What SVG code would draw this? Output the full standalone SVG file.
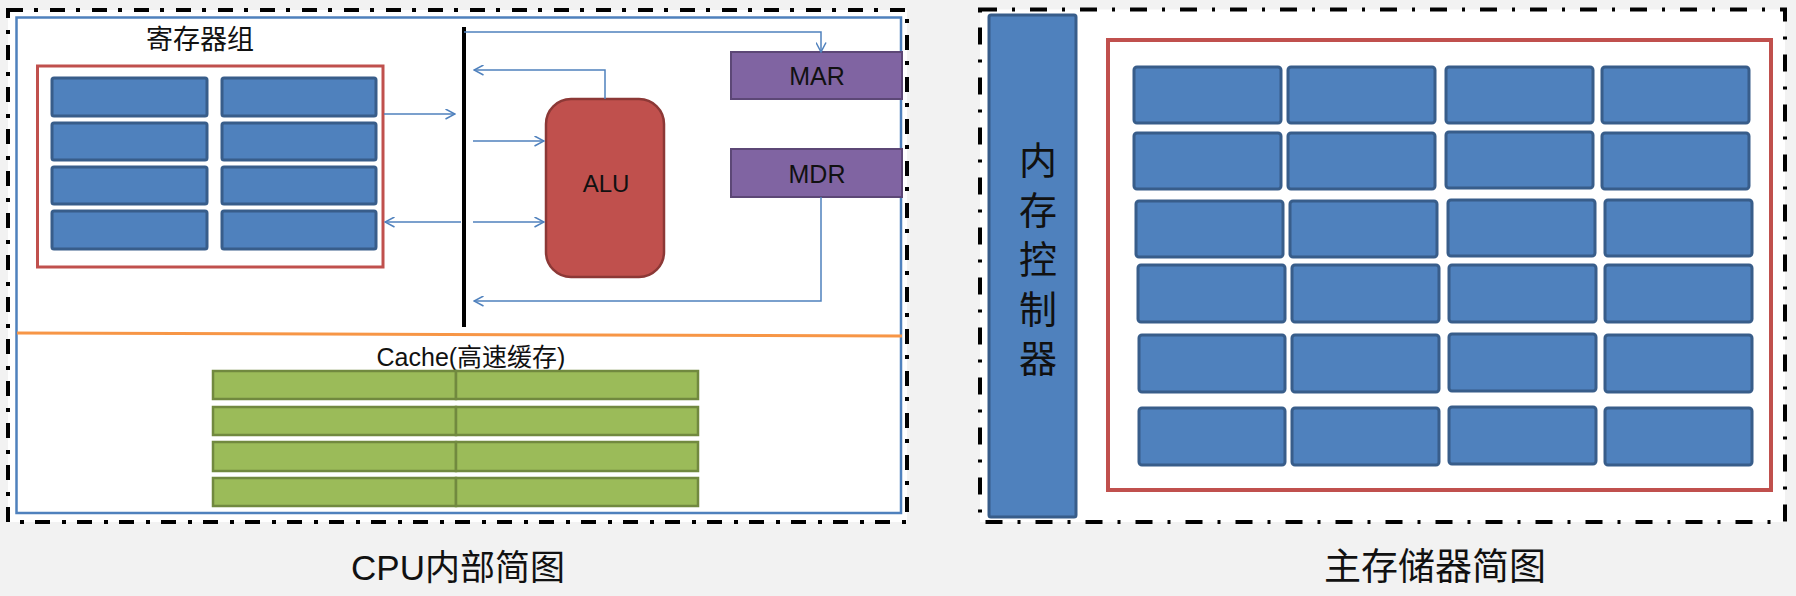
<svg xmlns="http://www.w3.org/2000/svg" width="1796" height="596" viewBox="0 0 1796 596">
<style>
.bg{fill:#f2f2f2}
.frameL{fill:#fff;stroke:#000;stroke-width:4;stroke-dasharray:15 11 4 12}
.frameR{fill:#fff;stroke:#000;stroke-width:4;stroke-dasharray:17 15 3 15}
.cpu{fill:none;stroke:#4f81bd;stroke-width:2.5}
.grp{fill:none;stroke:#c0504d;stroke-width:3}
.cell{fill:#4f81bd;stroke:#385d8a;stroke-width:3}
.green{fill:#9bbb59;stroke:#71893f;stroke-width:2.5}
.reg{fill:#8064a2;stroke:#5c4776;stroke-width:2}
.alu{fill:#c0504d;stroke:#8c3836;stroke-width:2.5}
.bl{fill:none;stroke:#4f81bd;stroke-width:1.5;marker-end:url(#ob)}
.ra{fill:none;stroke:#c0504d;stroke-width:4;marker-end:url(#rh);filter:url(#sh)}
.t{font-family:"Liberation Sans","Noto Sans CJK SC",sans-serif;fill:#111;text-anchor:middle}
.c{font-family:"Noto Sans CJK SC",sans-serif;fill:#111;text-anchor:middle}
.v{font-family:"Noto Sans CJK SC",sans-serif;fill:#111;writing-mode:vertical-rl;text-orientation:upright;letter-spacing:11.5px}
</style>
<defs>
<marker id="ob" viewBox="0 0 11 11" refX="10" refY="5.5" markerWidth="11" markerHeight="11" markerUnits="userSpaceOnUse" orient="auto">
<path d="M0.5,0.5 L10,5.5 L0.5,10.5" fill="none" stroke="#4f81bd" stroke-width="1.5"/>
</marker>
<marker id="rh" viewBox="0 0 18 18" refX="17" refY="9" markerWidth="18" markerHeight="18" markerUnits="userSpaceOnUse" orient="auto">
<path d="M0,1 L18,9 L0,17 Z" fill="#c0504d"/>
</marker>
<filter id="sh" x="-20%" y="-50%" width="140%" height="200%">
<feDropShadow dx="1" dy="2" stdDeviation="1.5" flood-color="#000" flood-opacity="0.25"/>
</filter>
</defs>
<rect class="bg" x="0" y="0" width="1796" height="596"/>

<g id="cpu-frame">
<rect class="frameL" x="8" y="10" width="899" height="512"/>
<rect class="cpu" x="16.5" y="17.5" width="884.5" height="495.5"/>
<line x1="17" y1="333" x2="902" y2="336" stroke="#f79646" stroke-width="3"/>
<text class="c" x="458" y="580" font-size="35"><tspan font-family="Liberation Sans">CPU</tspan>内部简图</text>
</g>

<g id="mem-frame">
<rect class="frameR" x="980" y="9.5" width="805" height="512.5"/>
<text class="c" x="1435" y="580" font-size="37">主存储器简图</text>
</g>

<g id="register-group">
<text class="c" x="200" y="49" font-size="27">寄存器组</text>
<rect class="grp" x="37.5" y="66" width="345.5" height="201"/>
<rect class="cell" x="52" y="78" width="155" height="38" rx="2"/>
<rect class="cell" x="222" y="78" width="154" height="38" rx="2"/>
<rect class="cell" x="52" y="123" width="155" height="37" rx="2"/>
<rect class="cell" x="222" y="123" width="154" height="37" rx="2"/>
<rect class="cell" x="52" y="167" width="155" height="37" rx="2"/>
<rect class="cell" x="222" y="167" width="154" height="37" rx="2"/>
<rect class="cell" x="52" y="211" width="155" height="38" rx="2"/>
<rect class="cell" x="222" y="211" width="154" height="38" rx="2"/>
</g>

<g id="bus">
<line x1="464" y1="27" x2="464" y2="327" stroke="#000" stroke-width="4"/>
</g>

<g id="alu">
<rect class="alu" x="546" y="99" width="118" height="178" rx="25"/>
<text class="t" x="606" y="192" font-size="24">ALU</text>
</g>

<g id="mar">
<rect class="reg" x="731" y="52" width="171" height="47"/>
<text class="t" x="817" y="85" font-size="25">MAR</text>
</g>

<g id="mdr">
<rect class="reg" x="731" y="149" width="171" height="48"/>
<text class="t" x="817" y="183" font-size="25">MDR</text>
</g>

<g id="cache">
<text class="t" x="471" y="366" font-size="25">Cache(高速缓存)</text>
<rect class="green" x="213" y="371" width="243" height="28"/>
<rect class="green" x="456" y="371" width="242" height="28"/>
<rect class="green" x="213" y="407" width="243" height="28"/>
<rect class="green" x="456" y="407" width="242" height="28"/>
<rect class="green" x="213" y="442" width="243" height="29"/>
<rect class="green" x="456" y="442" width="242" height="29"/>
<rect class="green" x="213" y="478" width="243" height="28"/>
<rect class="green" x="456" y="478" width="242" height="28"/>
</g>

<g id="memory-controller">
<rect class="cell" x="989" y="15" width="87" height="502" rx="2"/>
<text class="v" x="1038" y="141" font-size="38">内存控制器</text>
</g>

<g id="main-memory">
<rect x="1108" y="40" width="663" height="450" fill="none" stroke="#c0504d" stroke-width="4"/>
<rect class="cell" x="1134" y="67" width="147" height="56" rx="3"/>
<rect class="cell" x="1288" y="67" width="147" height="56" rx="3"/>
<rect class="cell" x="1446" y="67" width="147" height="56" rx="3"/>
<rect class="cell" x="1602" y="67" width="147" height="56" rx="3"/>
<rect class="cell" x="1134" y="133" width="147" height="56" rx="3"/>
<rect class="cell" x="1288" y="133" width="147" height="56" rx="3"/>
<rect class="cell" x="1446" y="132" width="147" height="56" rx="3"/>
<rect class="cell" x="1602" y="133" width="147" height="56" rx="3"/>
<rect class="cell" x="1136" y="201" width="147" height="56" rx="3"/>
<rect class="cell" x="1290" y="201" width="147" height="56" rx="3"/>
<rect class="cell" x="1448" y="200" width="147" height="56" rx="3"/>
<rect class="cell" x="1605" y="200" width="147" height="56" rx="3"/>
<rect class="cell" x="1138" y="265" width="147" height="57" rx="3"/>
<rect class="cell" x="1292" y="265" width="147" height="57" rx="3"/>
<rect class="cell" x="1449" y="265" width="147" height="57" rx="3"/>
<rect class="cell" x="1605" y="265" width="147" height="57" rx="3"/>
<rect class="cell" x="1139" y="335" width="146" height="57" rx="3"/>
<rect class="cell" x="1292" y="335" width="147" height="57" rx="3"/>
<rect class="cell" x="1449" y="334" width="147" height="57" rx="3"/>
<rect class="cell" x="1605" y="335" width="147" height="57" rx="3"/>
<rect class="cell" x="1139" y="408" width="146" height="57" rx="3"/>
<rect class="cell" x="1292" y="408" width="147" height="57" rx="3"/>
<rect class="cell" x="1449" y="407" width="147" height="57" rx="3"/>
<rect class="cell" x="1605" y="408" width="147" height="57" rx="3"/>
</g>

<g id="connectors">
<path class="bl" d="M384,114 H455"/>
<path class="bl" d="M461,222 H385"/>
<path class="bl" d="M473,141 H544"/>
<path class="bl" d="M473,222 H544"/>
<path class="bl" d="M464,32 H821 V52"/>
<path class="bl" d="M605,99 V70 H474"/>
<path class="bl" d="M821,197 V301 H474"/>
<path class="ra" d="M919,71 H966"/>
<path class="ra" d="M969,175 H920"/>
</g>
</svg>
